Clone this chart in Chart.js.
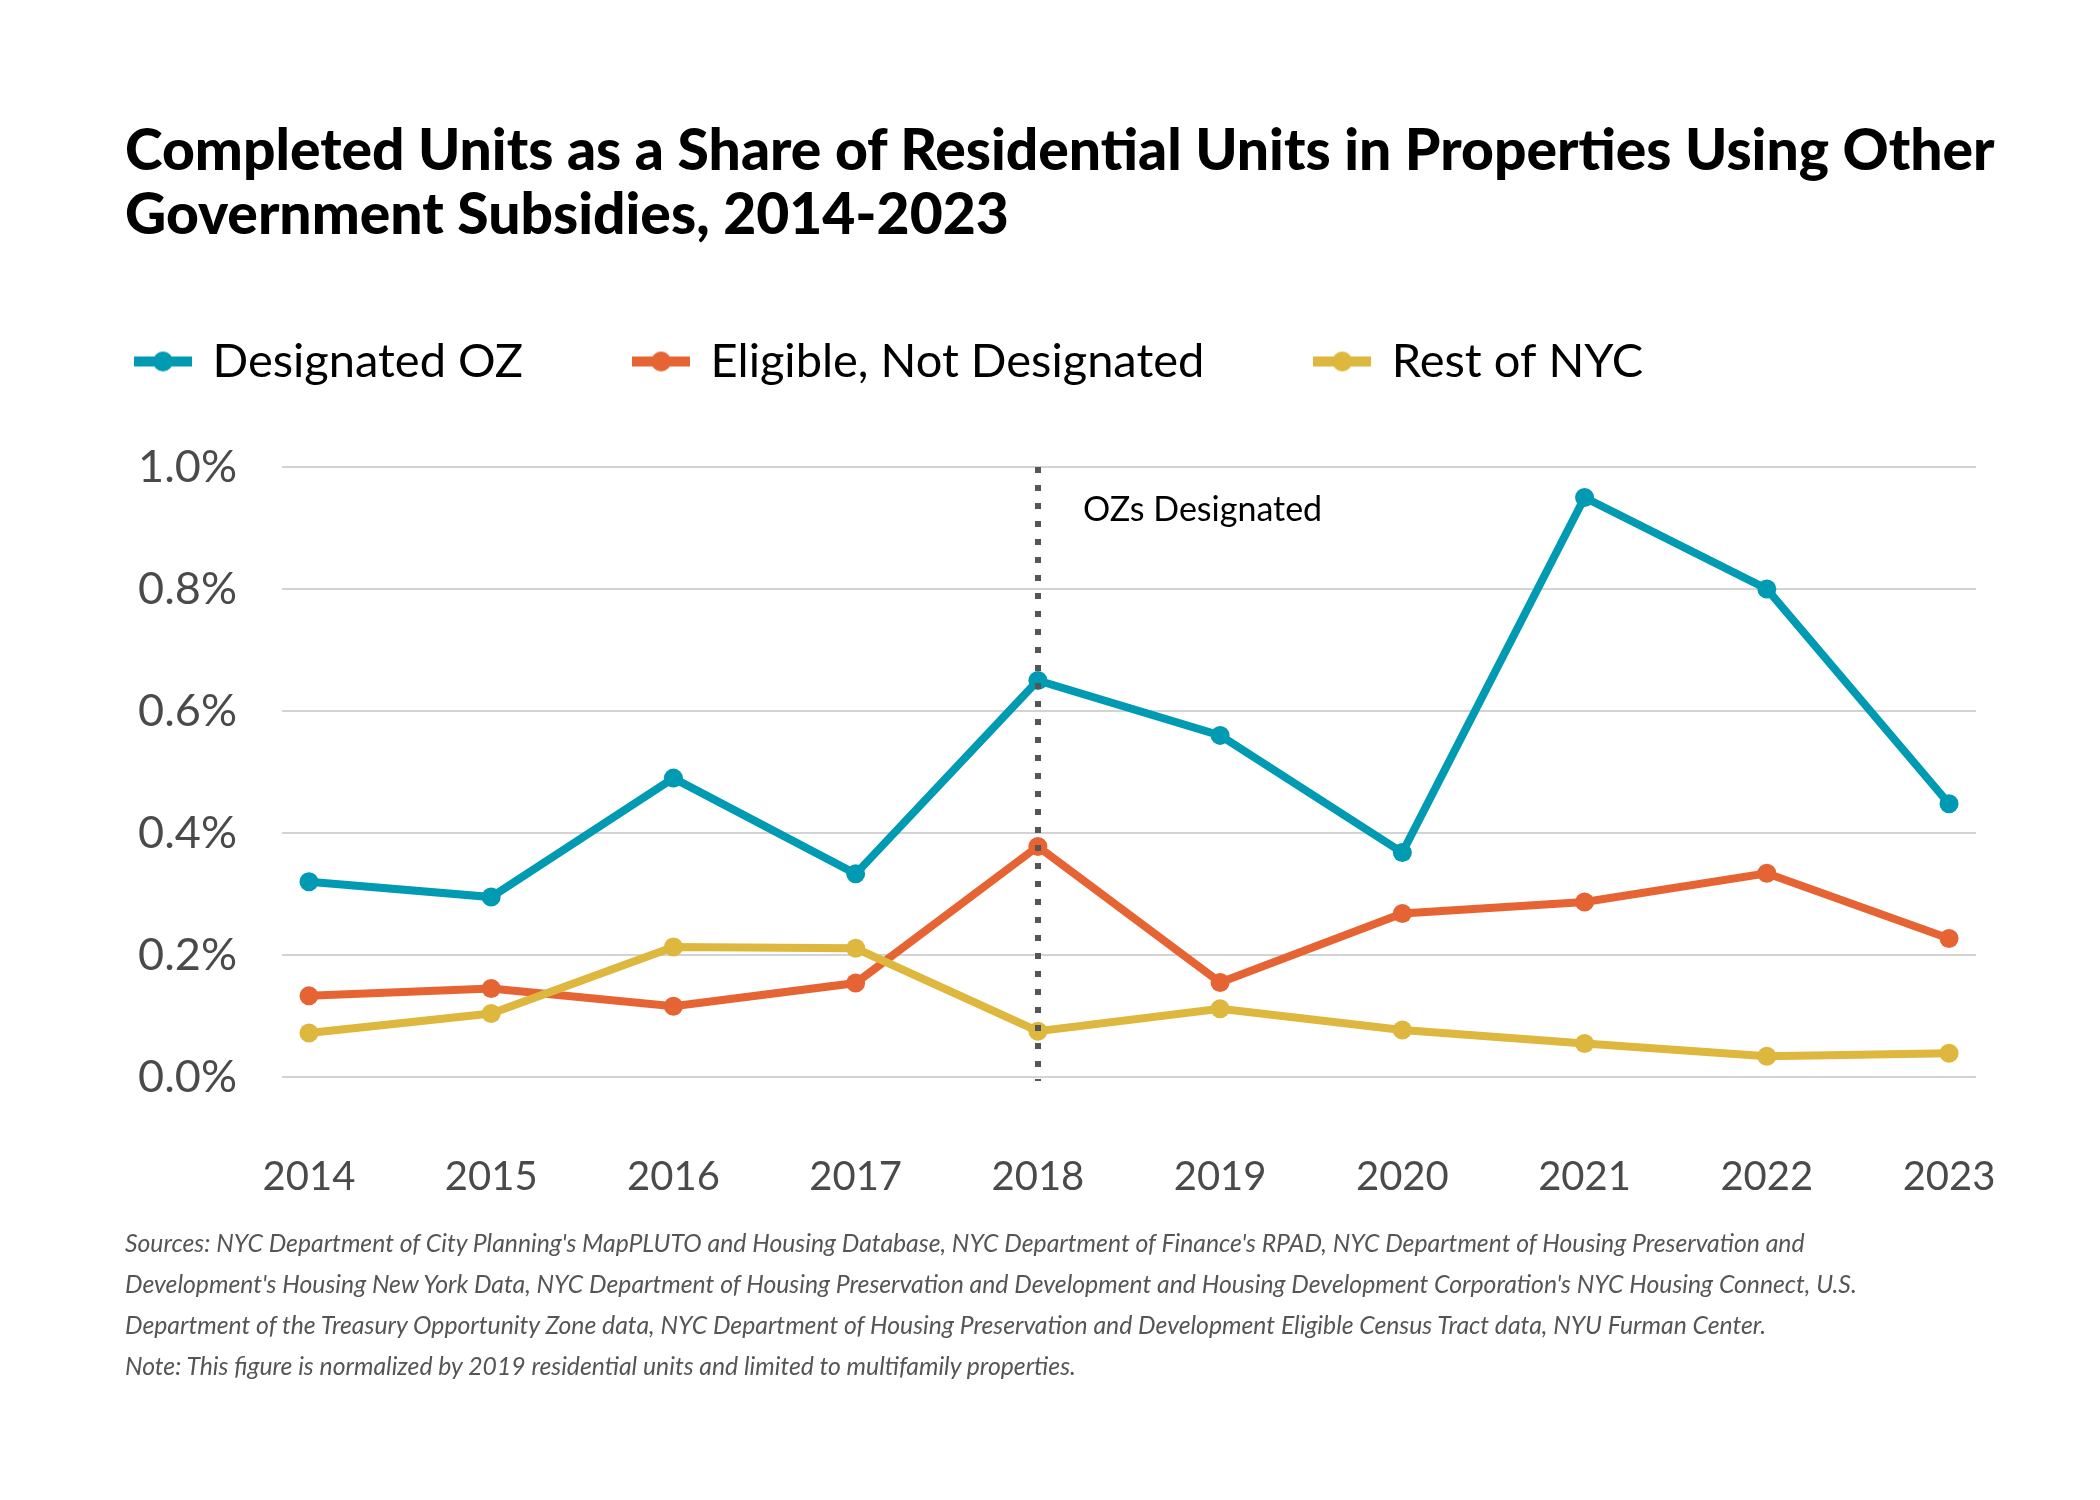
<!DOCTYPE html>
<html>
<head>
<meta charset="utf-8">
<script src="https://cdn.jsdelivr.net/npm/chart.js@4.4.1/dist/chart.umd.min.js"></script>
<style>
  html, body { margin:0; padding:0; background:#fff; }
  body { width:2100px; height:1500px; position:relative; overflow:hidden; font-family: Lato, "Open Sans", sans-serif; }
  #c { position:absolute; left:0; top:0; }
  #title { position:absolute; left:125px; top:116px; font-family: Lato, sans-serif; font-weight:900; color:#000; font-size:52px; line-height:64px; white-space:nowrap; }
  #title span, #notes span { display:block; width:max-content; }
  #notes { position:absolute; left:125px; top:1222px; font-family: Lato, sans-serif; font-style:italic; color:#555; font-size:24px; line-height:41px; white-space:nowrap; }
</style>
</head>
<body>
<canvas id="c" width="2100" height="1500"></canvas>
<div id="title"><span id="t1">Completed Units as a Share of Residential Units in Properties Using Other</span><span>Government Subsidies, 2014-2023</span></div>
<div id="notes"><span id="n1">Sources: NYC Department of City Planning's MapPLUTO and Housing Database, NYC Department of Finance's RPAD, NYC Department of Housing Preservation and</span><span>Development's Housing New York Data, NYC Department of Housing Preservation and Development and Housing Development Corporation's NYC Housing Connect, U.S.</span><span>Department of the Treasury Opportunity Zone data, NYC Department of Housing Preservation and Development Eligible Census Tract data, NYU Furman Center.</span><span>Note: This figure is normalized by 2019 residential units and limited to multifamily properties.</span></div>
<script>
// ---- data ----
const years = [2014, 2015, 2016, 2017, 2018, 2019, 2020, 2021, 2022, 2023];
const designatedOZ = [0.320, 0.295, 0.490, 0.333, 0.650, 0.560, 0.368, 0.950, 0.800, 0.448];
const eligibleNotDesignated = [0.133, 0.145, 0.116, 0.154, 0.378, 0.155, 0.268, 0.287, 0.334, 0.227];
const restOfNYC = [0.072, 0.104, 0.213, 0.211, 0.075, 0.112, 0.077, 0.055, 0.034, 0.039];
const seriesNames = ['Designated OZ', 'Eligible, Not Designated', 'Rest of NYC'];
const yTicks = [0.0, 0.2, 0.4, 0.6, 0.8, 1.0];
const markerYear = 2018;
const markerLabel = 'OZs Designated';

const colors = ['#009AB3', '#E66434', '#DDB73E'];

function fitWidth(el, target) {
  const w = el.getBoundingClientRect().width;
  const parent = el.parentElement;
  const fs = parseFloat(getComputedStyle(parent).fontSize);
  parent.style.fontSize = (fs * target / w) + 'px';
}

function makeMarker(color) {
  const c = document.createElement('canvas');
  c.width = 58; c.height = 22;
  const g = c.getContext('2d');
  g.fillStyle = color;
  g.fillRect(0, 6, 58, 10);
  g.beginPath(); g.arc(29, 11, 10, 0, Math.PI * 2); g.fill();
  return c;
}
const markers = colors.map(makeMarker);

const toPoints = arr => arr.map((v, i) => ({ x: years[i], y: v }));

const markerPlugin = {
  id: 'ozMarker',
  afterDatasetsDraw(chart) {
    const { ctx, scales: { x, y } } = chart;
    const px = Math.round(x.getPixelForValue(markerYear));
    const top = y.getPixelForValue(yTicks[yTicks.length - 1]);
    const bottom = y.getPixelForValue(yTicks[0]) + 4;
    ctx.save();
    ctx.strokeStyle = '#555555';
    ctx.lineWidth = 6;
    ctx.setLineDash([6, 12]);
    ctx.beginPath();
    ctx.moveTo(px, top);
    ctx.lineTo(px, bottom);
    ctx.stroke();
    ctx.setLineDash([]);
    ctx.fillStyle = '#000';
    ctx.font = '34px Lato';
    ctx.textBaseline = 'middle';
    ctx.textAlign = 'left';
    ctx.fillText(markerLabel, px + 45, top + 43);
    ctx.restore();
  }
};

function build() {
  fitWidth(document.getElementById('t1'), 1870);
  fitWidth(document.getElementById('n1'), 1680);

  new Chart(document.getElementById('c'), {
    type: 'line',
    data: {
      datasets: [
        { label: seriesNames[0], data: toPoints(designatedOZ), order: 1 },
        { label: seriesNames[1], data: toPoints(eligibleNotDesignated), order: 2 },
        { label: seriesNames[2], data: toPoints(restOfNYC), order: 0 }
      ].map((d, i) => Object.assign(d, {
        borderColor: colors[i],
        backgroundColor: colors[i],
        pointBackgroundColor: colors[i],
        pointBorderColor: colors[i],
        pointBorderWidth: 0,
        pointRadius: 9.5,
        pointStyle: 'circle',
        borderWidth: 8,
        tension: 0,
        fill: false
      }))
    },
    options: {
      responsive: false,
      devicePixelRatio: 1,
      animation: false,
      events: [],
      layout: { padding: { left: 25, right: 124, top: 226, bottom: 273 } },
      plugins: {
        tooltip: { enabled: false },
        title: { display: false },
        legend: {
          display: true,
          position: 'top',
          align: 'start',
          labels: {
            usePointStyle: true,
            pointStyleWidth: 52,
            boxHeight: 22,
            padding: 112,
            color: '#000',
            font: { family: 'Lato', size: 47 },
            sort: (a, b) => a.datasetIndex - b.datasetIndex,
            generateLabels: chart => chart.data.datasets.map((d, i) => ({
              text: d.label,
              pointStyle: markers[i],
              fillStyle: colors[i],
              strokeStyle: colors[i],
              lineWidth: 0,
              hidden: false,
              datasetIndex: i,
              fontColor: '#000'
            }))
          }
        },
        subtitle: {
          display: true,
          text: '',
          position: 'top',
          weight: 500,
          font: { size: 10, lineHeight: 1 },
          padding: { top: 0, bottom: 62 }
        }
      },
      scales: {
        x: {
          type: 'linear',
          min: years[0] - 0.148,
          max: years[years.length - 1] + 0.148,
          afterBuildTicks: s => { s.ticks = years.map(v => ({ value: v })); },
          afterFit: s => { s.height = 150; },
          grid: { display: false, drawTicks: false },
          border: { display: false },
          ticks: {
            autoSkip: false,
            maxRotation: 0,
            padding: 76,
            color: '#4a4a4a',
            font: { family: 'Lato', size: 40 },
            callback: v => String(v)
          }
        },
        y: {
          type: 'linear',
          min: yTicks[0],
          max: yTicks[yTicks.length - 1],
          afterBuildTicks: s => { s.ticks = yTicks.map(v => ({ value: v })); },
          afterFit: s => { s.width = 257; },
          grid: { color: '#d3d3d3', lineWidth: 2, drawTicks: false },
          border: { display: false },
          ticks: {
            padding: 45,
            color: '#4a4a4a',
            font: { family: 'Lato', size: 45 },
            callback: v => v.toFixed(1) + '%'
          }
        }
      }
    },
    plugins: [markerPlugin]
  });
}

(document.fonts && document.fonts.load ? Promise.all([
  document.fonts.load('900 52px Lato'),
  document.fonts.load('47px Lato'),
  document.fonts.load('italic 24px Lato')
]).catch(() => {}) : Promise.resolve()).then(build);
</script>
</body>
</html>
